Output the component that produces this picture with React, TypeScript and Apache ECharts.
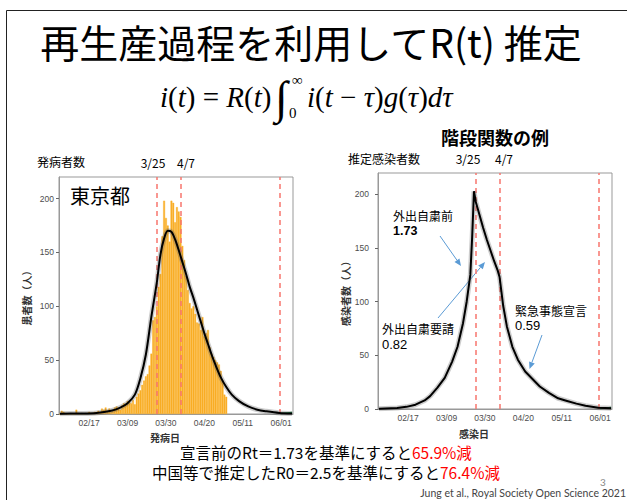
import React, { useEffect, useRef } from "react";
import * as echarts from "echarts";

// ---- categories: daily dates 2020-02-01 .. 2020-06-07 ----
const startDate = Date.UTC(2020, 1, 1);
const dayCount = 128;
const categories: string[] = [];
for (let i = 0; i < dayCount; i++) {
  const d = new Date(startDate + i * 86400000);
  categories.push(
    String(d.getUTCMonth() + 1).padStart(2, "0") + "/" + String(d.getUTCDate()).padStart(2, "0")
  );
}
const tickLabels = ["02/17", "03/09", "03/30", "04/20", "05/11", "06/01"];
const policyDates = ["03/25", "04/07", "05/31"];
const yTicks = [0, 50, 100, 150, 200];

// daily symptom-onset counts, Tokyo, from 02/01
const onsetCounts = [
  0, 3, 2, 1, 0, 0, 1, 0, 0, 4,
  1, 0, 1, 0, 1, 1, 2, 1, 1, 2,
  2, 3, 2, 5, 4, 6, 3, 5, 2, 3,
  6, 7, 5, 4, 8, 10, 9, 12, 11, 10,
  13, 9, 16, 19, 22, 27, 31, 35, 37, 45,
  56, 87, 90, 100, 118, 130, 165, 198, 182, 175,
  160, 198, 196, 178, 192, 188, 183, 156, 143, 128,
  115, 103, 98, 100, 93, 85, 84, 78, 90, 72,
  75, 78, 62, 56, 53, 50, 48, 46, 40, 31,
  18, 16,
];

// fitted onset curve (left)
const onsetFitDates = [
  "02/01", "02/11", "02/21", "02/29", "03/05", "03/09", "03/13", "03/16", "03/19", "03/22",
  "03/25", "03/27", "03/29", "03/31", "04/02", "04/04", "04/06", "04/08", "04/10", "04/12",
  "04/14", "04/16", "04/18", "04/20", "04/22", "04/24", "04/26", "04/29", "05/02", "05/05",
  "05/09", "05/14", "05/19", "05/24", "05/31", "06/07",
];
const onsetFitValues = [
  0.2, 0.5, 1, 3, 6, 10, 18, 33, 55, 90,
  122, 148, 163, 170, 169, 162, 152, 141, 130, 118,
  108, 97, 86, 75, 65, 55, 46, 34, 25, 18,
  12, 7, 4, 2.5, 1, 0.5,
];

// estimated infections, step-function R(t) (right)
const infectionDates = [
  "02/01", "02/11", "02/16", "02/21", "02/26", "02/29", "03/04", "03/08", "03/12", "03/15",
  "03/18", "03/20", "03/22", "03/23", "03/24", "03/25", "03/27", "03/29", "03/31", "04/02",
  "04/04", "04/06", "04/07", "04/09", "04/11", "04/14", "04/17", "04/21", "04/25", "04/29",
  "05/04", "05/09", "05/13", "05/19", "05/24", "05/31", "06/07",
];
const infectionValues = [
  0.3, 1, 2, 4, 8, 12, 20, 29, 44, 58,
  80, 100, 125, 160, 203, 193, 181, 169, 158, 148,
  138, 129, 123, 96, 77, 58, 46, 35, 28, 21,
  15, 10, 8, 5, 3, 1.2, 0.6,
];

// late reported cases (green stub)
const lateDates = ["06/01", "06/07"];
const lateValues = [0.5, 1.5];

const pairs = (dates: string[], vals: number[]) => dates.map((d, i) => [d, vals[i]]);

const isTick = (_i: number, v: string) => tickLabels.includes(v);

function arrow(x1: number, y1: number, x2: number, y2: number, color: string) {
  const dx = x2 - x1;
  const dy = y2 - y1;
  const len = Math.sqrt(dx * dx + dy * dy);
  const ux = dx / len;
  const uy = dy / len;
  const hl = 7;
  const hw = 3;
  const bx = x2 - ux * hl;
  const by = y2 - uy * hl;
  return [
    { type: "line", shape: { x1, y1, x2: bx, y2: by }, style: { stroke: color, lineWidth: 1 } },
    {
      type: "polygon",
      shape: {
        points: [
          [x2, y2],
          [bx - uy * hw, by + ux * hw],
          [bx + uy * hw, by - ux * hw],
        ],
      },
      style: { fill: color },
    },
  ];
}

const JP = "'Noto Sans CJK JP', 'Noto Sans', sans-serif";
const SERIF = "'Liberation Serif', 'DejaVu Serif', serif";
const SANS = "'Liberation Sans', sans-serif";

function txt(x: number, y: number, text: string, fontSize: number, opts: any = {}) {
  return {
    type: "text",
    x,
    y,
    style: {
      text,
      fontSize,
      fontFamily: opts.fontFamily || JP,
      fontWeight: opts.fontWeight || "normal",
      fill: opts.fill || "#000",
      textAlign: opts.align || "left",
      textVerticalAlign: "middle",
      rich: opts.rich,
    },
  };
}

function xAxisCfg(gridIndex: number, margin: number) {
  return {
    type: "category",
    gridIndex,
    data: categories,
    boundaryGap: true,
    axisLine: { lineStyle: { color: "#999" } },
    axisTick: { interval: isTick, alignWithLabel: true, length: 3, lineStyle: { color: "#666" } },
    axisLabel: {
      interval: isTick,
      fontSize: 8.5,
      color: "#4d4d4d",
      margin,
      fontFamily: SANS,
    },
    splitLine: { show: false },
  };
}

function yAxisCfg(gridIndex: number, name: string, nameGap: number, margin: number) {
  return {
    type: "value",
    gridIndex,
    min: 0,
    max: 220,
    name,
    nameLocation: "middle",
    nameGap,
    nameTextStyle: { fontSize: 10, fontWeight: "bold", color: "#333", fontFamily: JP },
    axisLine: { show: true, lineStyle: { color: "#999" } },
    axisTick: { show: true, length: 3, customValues: yTicks, lineStyle: { color: "#666" } },
    axisLabel: {
      customValues: yTicks,
      fontSize: 8.5,
      color: "#4d4d4d",
      margin,
      fontFamily: SANS,
    },
    splitLine: { show: false },
  };
}

const dashed = {
  silent: true,
  symbol: ["none", "none"],
  label: { show: false },
  lineStyle: { type: [5, 4], color: "#F8766D", width: 1.5 },
  data: policyDates.map((d) => ({ xAxis: d })),
};

const bottomRich = {
  n: { fontFamily: JP, fontSize: 15.5, fill: "#000" },
  r: { fontFamily: JP, fontSize: 15.5, fill: "#FF0000" },
};
const formulaRich = {
  v: { fontFamily: SERIF, fontStyle: "italic", fontSize: 29, fill: "#000" },
  p: { fontFamily: SERIF, fontSize: 29, fill: "#000" },
};

export default function App() {
  const ref = useRef<HTMLDivElement>(null);
  useEffect(() => {
    if (!ref.current) return;
    const chart = echarts.init(ref.current, undefined, { renderer: "svg" });
    const blue = "#5B9BD5";
    const option: any = {
      animation: false,
      backgroundColor: "#fff",
      grid: [
        { left: 59, top: 177, width: 234, height: 237, show: true, borderColor: "#999", borderWidth: 1 },
        { left: 378, top: 173, width: 234, height: 236, show: true, borderColor: "#999", borderWidth: 1 },
      ],
      xAxis: [xAxisCfg(0, 4), xAxisCfg(1, 4)],
      yAxis: [yAxisCfg(0, "患者数（人）", 28, 5), yAxisCfg(1, "感染者数（人）", 26, 9)],
      series: [
        {
          type: "bar",
          xAxisIndex: 0,
          yAxisIndex: 0,
          data: onsetCounts,
          barCategoryGap: "0%",
          itemStyle: { color: "#F9AE26", borderColor: "#F9AE26", borderWidth: 0.4 },
          z: 2,
        },
        {
          type: "line",
          xAxisIndex: 0,
          yAxisIndex: 0,
          data: pairs(lateDates, lateValues),
          symbol: "none",
          lineStyle: { color: "#1a9850", width: 1.5 },
          markLine: dashed,
          z: 4,
        },
        {
          type: "line",
          xAxisIndex: 0,
          yAxisIndex: 0,
          data: pairs(onsetFitDates, onsetFitValues),
          symbol: "none",
          smooth: 0.3,
          lineStyle: { color: "rgba(90,90,90,0.3)", width: 5 },
          z: 5,
        },
        {
          type: "line",
          xAxisIndex: 0,
          yAxisIndex: 0,
          data: pairs(onsetFitDates, onsetFitValues),
          symbol: "none",
          smooth: 0.3,
          lineStyle: { color: "#000", width: 2 },
          z: 6,
        },
        {
          type: "line",
          xAxisIndex: 1,
          yAxisIndex: 1,
          data: pairs(lateDates, lateValues),
          symbol: "none",
          lineStyle: { color: "#1a9850", width: 1.5 },
          markLine: dashed,
          z: 4,
        },
        {
          type: "line",
          xAxisIndex: 1,
          yAxisIndex: 1,
          data: pairs(infectionDates, infectionValues),
          symbol: "none",
          smooth: false,
          lineStyle: { color: "rgba(90,90,90,0.3)", width: 5 },
          z: 5,
        },
        {
          type: "line",
          xAxisIndex: 1,
          yAxisIndex: 1,
          data: pairs(infectionDates, infectionValues),
          symbol: "none",
          smooth: false,
          lineStyle: { color: "#000", width: 2 },
          z: 6,
        },
      ],
      graphic: [
        {
          type: "rect",
          shape: { x: 6.5, y: 10.5, width: 640, height: 520 },
          style: { fill: "none", stroke: "#222", lineWidth: 1 },
          silent: true,
        },
        txt(311, 41, "再生産過程を利用してR(t) 推定", 39, { align: "center" }),
        // formula
        txt(160, 97, "{v|i}{p|(}{v|t}{p|) = }{v|R}{p|(}{v|t}{p|)}", 29, {
          fontFamily: SERIF,
          rich: formulaRich,
        }),
        txt(275, 97, "∫", 46, { fontFamily: SERIF }),
        txt(292, 80, "∞", 15, { fontFamily: SERIF }),
        txt(289, 113, "0", 15, { fontFamily: SERIF }),
        txt(307, 97, "{v|i}{p|(}{v|t}{p| − }{v|τ}{p|)}{v|g}{p|(}{v|τ}{p|)}{v|dτ}", 29, {
          fontFamily: SERIF,
          rich: formulaRich,
        }),
        txt(495, 137, "階段関数の例", 18, { align: "center", fontWeight: "bold" }),
        txt(37, 161, "発病者数", 12),
        txt(153, 162, "3/25", 12, { align: "center" }),
        txt(186, 162, "4/7", 12, { align: "center" }),
        txt(348, 158, "推定感染者数", 12),
        txt(468, 158, "3/25", 12, { align: "center" }),
        txt(504, 158, "4/7", 12, { align: "center" }),
        txt(70, 195, "東京都", 20),
        txt(165, 437, "発病日", 10, { align: "center", fontWeight: "bold", fill: "#333" }),
        txt(474, 433, "感染日", 10, { align: "center", fontWeight: "bold", fill: "#333" }),
        txt(393, 215, "外出自粛前", 12),
        txt(393, 231, "1.73", 12.5, { fontWeight: "bold", fontFamily: SANS }),
        txt(382, 328, "外出自粛要請", 12),
        txt(382, 344, "0.82", 13, { fontFamily: SANS }),
        txt(515, 310, "緊急事態宣言", 12),
        txt(515, 325, "0.59", 13, { fontFamily: SANS }),
        ...arrow(440, 236, 461, 266, blue),
        ...arrow(438, 318, 485, 262, blue),
        ...arrow(542, 335, 529.5, 369, blue),
        txt(326, 452, "{n|宣言前のRt＝1.73を基準にすると}{r|65.9%減}", 15.5, {
          align: "center",
          rich: bottomRich,
        }),
        txt(326, 472, "{n|中国等で推定したR0＝2.5を基準にすると}{r|76.4%減}", 15.5, {
          align: "center",
          rich: bottomRich,
        }),
        txt(600, 482, "3", 10, { fill: "#888", fontFamily: "Lato, sans-serif" }),
        txt(626, 493, "Jung et al., Royal Society Open Science 2021", 10.5, {
          align: "right",
          fill: "#444",
          fontFamily: "Lato, sans-serif",
        }),
      ],
    };
    chart.setOption(option);
    return () => chart.dispose();
  }, []);
  return (
    <div
      ref={ref}
      style={{ position: "absolute", left: 0, top: 0, width: 627, height: 500, background: "#fff" }}
    />
  );
}
